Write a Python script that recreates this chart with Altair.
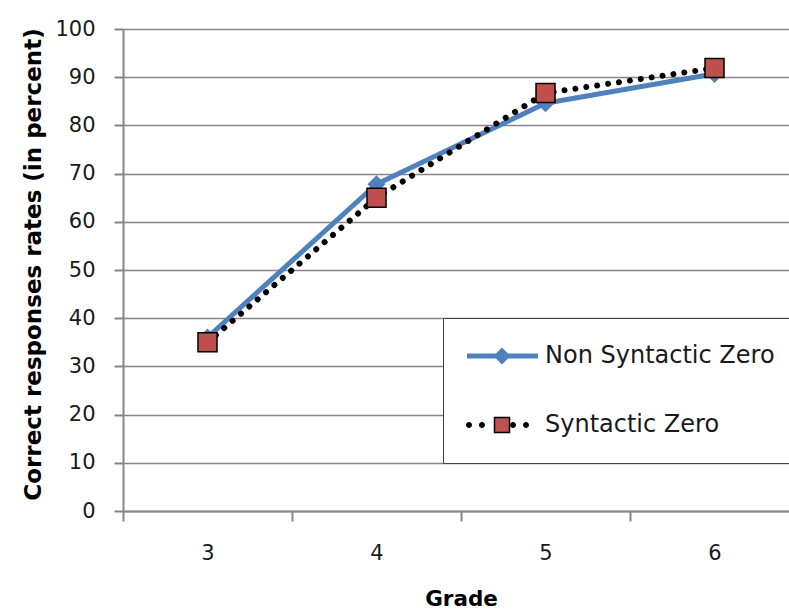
import altair as alt
import pandas as pd

grades = ["3", "4", "5", "6"]
series_names = ["Non Syntactic Zero", "Syntactic Zero"]
non_syntactic = [36.0, 67.8, 84.6, 90.7]
syntactic = [35.0, 65.0, 86.7, 91.9]
y_ticks = [0, 10, 20, 30, 40, 50, 60, 70, 80, 90, 100]

BLUE = "#4F81BD"
RED = "#C0504D"
GRAY = "#868686"
FONT = "DejaVu Sans"
TXT = "#1a1a1a"

rows = []
for g, v in zip(grades, non_syntactic):
    rows.append({"grade": g, "series": series_names[0], "value": v})
for g, v in zip(grades, syntactic):
    rows.append({"grade": g, "series": series_names[1], "value": v})
df = pd.DataFrame(rows)

x_enc = alt.X(
    "grade:O",
    title="Grade",
    scale=alt.Scale(domain=grades, paddingInner=0, paddingOuter=0),
    axis=alt.Axis(
        tickBand="extent", labelAngle=0, grid=False, domainColor=GRAY, domainWidth=2,
        tickColor=GRAY, tickWidth=2, tickSize=10, labelPadding=21, labelFontSize=21,
        labelFont=FONT, labelColor=TXT, titleFont=FONT, titleFontSize=21.5,
        titleFontWeight="bold", titleColor="black", titlePadding=25,
    ),
)
y_enc = alt.Y(
    "value:Q",
    title="Correct responses rates (in percent)",
    scale=alt.Scale(domain=[0, 100], nice=False),
    axis=alt.Axis(
        values=y_ticks, grid=True, gridColor=GRAY, gridWidth=1.3, domainColor=GRAY,
        domainWidth=2, tickColor=GRAY, tickWidth=2, tickSize=9, labelPadding=19,
        labelFontSize=21, labelFont=FONT, labelColor=TXT, titleFont=FONT,
        titleFontSize=23, titleFontWeight="bold", titleColor="black", titlePadding=9,
        titleY=235,
    ),
)

# shared legend layout (three legends stacked on each other)
legend_common = dict(
    orient="none", legendX=320, legendY=289, padding=26, labelFont=FONT,
    labelFontSize=24, labelLimit=400, rowPadding=45, title=None, labelOffset=52,
    symbolSize=225,
)
LINE_PATH = "M-1.867,0H7.6"
R = 0.4
DOT_PATH = " ".join(
    f"M{cx - R:.3f},0a{R},{R} 0 1,0 {2 * R},0a{R},{R} 0 1,0 {-2 * R},0Z"
    for cx in [-1.6, 0.133, 4.267, 6.0]
)
legend_a = alt.Legend(
    symbolType=LINE_PATH, strokeColor="#404040", fillColor="white",
    labelColor=TXT, **legend_common,
)
legend_b = alt.Legend(
    symbolOffset=21, symbolStrokeWidth=1.5, symbolOpacity=1, labelOpacity=0,
    **legend_common,
)
legend_c = alt.Legend(
    symbolType=DOT_PATH,
    symbolFillColor=alt.ExprRef(expr="datum.value === 'Syntactic Zero' ? 'black' : 'transparent'"),
    symbolStrokeColor="transparent", symbolStrokeWidth=0, symbolOpacity=1,
    labelOpacity=0, **legend_common,
)

lines = alt.Chart(df).mark_line(strokeCap="round", strokeJoin="round").encode(
    x=x_enc,
    y=y_enc,
    color=alt.Color("series:N", scale=alt.Scale(domain=series_names, range=[BLUE, "black"]), legend=legend_a),
    strokeDash=alt.StrokeDash("series:N", scale=alt.Scale(domain=series_names, range=[[1, 0], [0.01, 11]]), legend=legend_a),
    strokeWidth=alt.StrokeWidth("series:N", scale=alt.Scale(domain=series_names, range=[5, 6]), legend=legend_a),
)

points = alt.Chart(df).transform_calculate(
    series_pt="datum.series", series_c="datum.series"
).mark_point(filled=True, strokeWidth=1.5).encode(
    x=x_enc,
    y=y_enc,
    shape=alt.Shape("series_pt:N", scale=alt.Scale(range=["diamond", "square"]), legend=legend_b),
    fill=alt.Fill("series_pt:N", scale=alt.Scale(range=[BLUE, RED]), legend=legend_b),
    stroke=alt.Stroke("series_pt:N", scale=alt.Scale(range=[BLUE, "black"]), legend=legend_b),
    opacity=alt.Opacity("series_c:O", scale=alt.Scale(range=[1, 1]), legend=legend_c),
    size=alt.condition("datum.series_pt === 'Syntactic Zero'", alt.value(361), alt.value(256)),
)

chart = alt.layer(lines, points).properties(
    width=676,
    height=482,
    autosize=alt.AutoSizeParams(type="none"),
    padding={"left": 123, "top": 29, "right": -10, "bottom": 99},
    background="white",
).configure_view(strokeWidth=0)

chart.save("out.html", embed_options={"renderer": "svg", "actions": False})
